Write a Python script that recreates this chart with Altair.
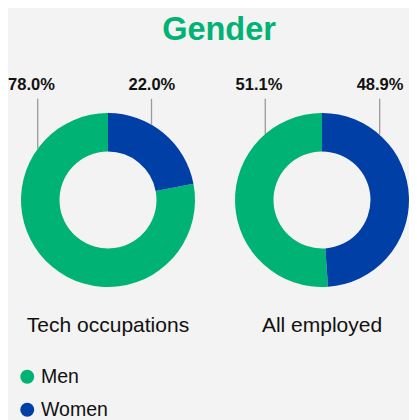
import math
import altair as alt
import pandas as pd

# ---- data ----
groups = ["Tech occupations", "All employed"]
genders = ["Men", "Women"]
men_pct = [78.0, 51.1]
women_pct = [22.0, 48.9]

# ---- layout constants (in donut-radius units) ----
GREEN = "#00b273"
BLUE = "#003fa6"
BG = "#f2f3f2"
FONT = "Liberation Sans"
R = 87            # outer radius in px (cell is 2R x 2R)
INNER = 48.5
leader_x = {("Tech occupations", "Men"): -0.808, ("Tech occupations", "Women"): 0.50,
            ("All employed", "Men"): -0.652, ("All employed", "Women"): 0.663}
LEFT_SHIFT = -0.072   # labels on the left sit a bit left of their leader line
LINE_TOP = 1.163
LABEL_Y = 1.27

rows = []
for g, m, w in zip(groups, men_pct, women_pct):
    for gender, v in zip(genders, [m, w]):
        lx = leader_x[(g, gender)]
        rows.append({
            "group": g,
            "gender": gender,
            "value": v,
            "ord": 0 if gender == "Women" else 1,
            "lx": lx,
            "tx": lx + (LEFT_SHIFT if lx < 0 else 0.004),
            "edge": math.sqrt(1 - lx * lx),
            "top": LINE_TOP,
            "ly": LABEL_Y,
        })
df = pd.DataFrame(rows)

xs = alt.Scale(domain=[-1, 1], nice=False, zero=False)
ys = alt.Scale(domain=[-1, 1], nice=False, zero=False)

base = alt.Chart().transform_calculate(
    label="format(datum.value, '.1f') + '%'"
)

arcs = base.mark_arc(outerRadius=R, innerRadius=INNER).encode(
    theta=alt.Theta("value:Q", stack=True),
    order=alt.Order("ord:Q"),
    color=alt.Color(
        "gender:N",
        scale=alt.Scale(domain=genders, range=[GREEN, BLUE]),
        legend=alt.Legend(
            title=None, orient="none", legendX=-3.5, legendY=254,
            direction="vertical", symbolType="circle", symbolSize=194,
            symbolStrokeWidth=0, labelFont=FONT, labelFontSize=19.5,
            labelColor="#111111", rowPadding=12, labelOffset=4, padding=0,
        ),
    ),
)

rules = base.mark_rule(color="#9a9a9a", strokeWidth=1.3).encode(
    x=alt.X("lx:Q", scale=xs, axis=None),
    y=alt.Y("edge:Q", scale=ys, axis=None),
    y2="top:Q",
)

labels = base.mark_text(
    font=FONT, fontSize=16.5, fontWeight="bold", color="#111111",
    align="center", baseline="alphabetic",
).encode(
    x=alt.X("tx:Q", scale=xs, axis=None),
    y=alt.Y("ly:Q", scale=ys, axis=None),
    text="label:N",
)

chart = alt.layer(arcs, rules, labels, data=df).properties(
    width=2 * R, height=2 * R
).facet(
    column=alt.Column(
        "group:N", sort=groups, title=None,
        header=alt.Header(
            labelOrient="bottom", labelFont=FONT, labelFontSize=21,
            labelColor="#111111", labelPadding=28,
        ),
    ),
    spacing=40,
).properties(
    title=alt.Title(
        "Gender", font=FONT, fontSize=32.5, fontWeight="bold", color=GREEN,
        anchor="middle", offset=30.5, dx=10.5,
    ),
    padding={"left": 0, "top": 5, "right": 0, "bottom": 0},
    background=BG,
).configure_view(stroke=None).configure_header(labelBaseline="top")

chart.save("out.html", embed_options={"renderer": "svg", "actions": False})
